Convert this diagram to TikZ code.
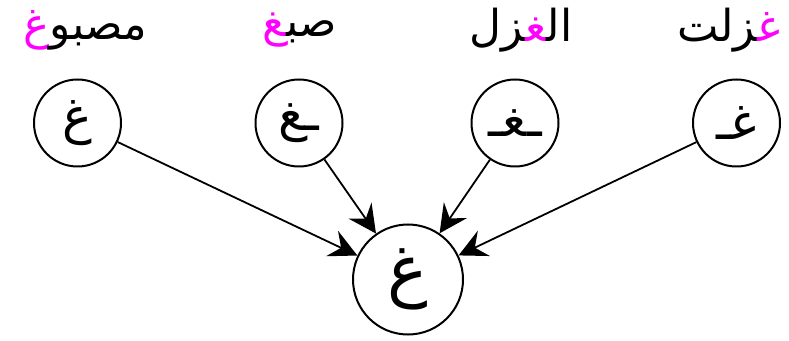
\documentclass[tikz,border=0pt]{standalone}
\usepackage{fontspec}
\usepackage{xcolor}
\usetikzlibrary{arrows.meta}
\newfontfamily\arabicfont[Script=Arabic]{DejaVu Sans}
\definecolor{hilite}{RGB}{255,0,255}
\newcommand{\hl}[1]{\textcolor{hilite}{#1}}

\tikzset{
  form/.style={circle,draw,line width=2pt,minimum size=87pt,inner sep=0pt,
    font=\arabicfont\fontsize{50}{60}\selectfont},
  letter/.style={circle,draw,line width=2pt,minimum size=110pt,inner sep=0pt,
    font=\arabicfont\fontsize{68}{80}\selectfont},
  word/.style={inner sep=0pt,font=\arabicfont\fontsize{44}{52}\selectfont},
  link/.style={line width=1.8pt,-{Stealth[length=28pt,width=28pt,inset=10pt]}}
}

\begin{document}
\begin{tikzpicture}[x=1pt,y=1pt]
  \useasboundingbox (0,0) rectangle (789,340);
  % words (pieces set left to right)
  \node[word] (w1) at (85,310) {\hl{غ}مصبو};
  \node[word] (w2) at (300,310) {\hl{‍غ}صب‍};
  \node[word] (w3) at (521,310) {‍زل\hl{‍غ‍}ال‍};
  \node[word] (w4) at (729,310) {‍زلت\hl{غ‍}};
  % forms
  \node[form] (f1) at (77.5,217) {غ};
  \node[form] (f2) at (299,217) {ـغ};
  \node[form] (f3) at (515,217) {ـغـ};
  \node[form] (f4) at (736.5,217) {غـ};
  % letter
  \node[letter] (g) at (408,60.5) {غ};
  \draw[link] (f1) -- (g);
  \draw[link] (f2) -- (g);
  \draw[link] (f3) -- (g);
  \draw[link] (f4) -- (g);
\end{tikzpicture}
\end{document}
